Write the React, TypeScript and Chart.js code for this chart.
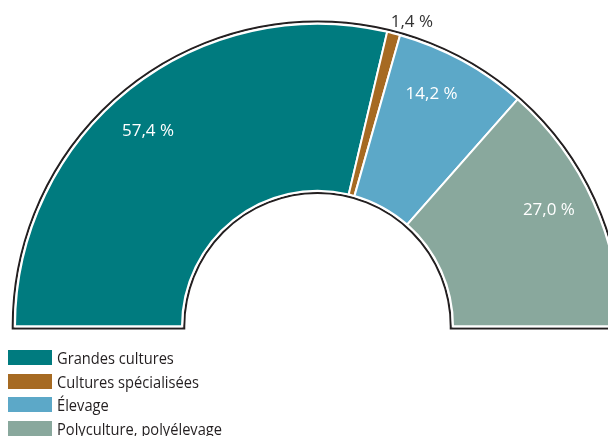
import React, { useEffect, useRef } from "react";
import { Chart, registerables } from "chart.js";

Chart.register(...registerables);

const categories = ["Grandes cultures", "Cultures spécialisées", "Élevage", "Polyculture, polyélevage"];
const shares = [57.4, 1.4, 14.2, 27.0];
const valueLabels = ["57,4 %", "1,4 %", "14,2 %", "27,0 %"];
const colors = ["#007B7F", "#A66A22", "#5CA8C8", "#89A89D"];

const CANVAS_W = 660;
const CANVAS_H = 436;
const LEGEND_FONT = "17px 'Open Sans', 'Noto Sans', sans-serif";

const outlinePlugin = {
  id: "outline",
  beforeDatasetsDraw(chart: any) {
    const meta = chart.getDatasetMeta(0);
    const arc = meta.data[0];
    if (!arc) return;
    const { x, y, outerRadius, innerRadius } = arc.getProps(["x", "y", "outerRadius", "innerRadius"], true);
    const d = 2.3;
    const R = outerRadius + d;
    const r = innerRadius - d;
    const ctx = chart.ctx;
    ctx.save();
    ctx.beginPath();
    ctx.moveTo(x - R, y + d);
    ctx.lineTo(x - R, y);
    ctx.arc(x, y, R, Math.PI, 2 * Math.PI, false);
    ctx.lineTo(x + R, y + d);
    ctx.lineTo(x + r, y + d);
    ctx.lineTo(x + r, y);
    ctx.arc(x, y, r, 0, Math.PI, true);
    ctx.lineTo(x - r, y + d);
    ctx.closePath();
    ctx.strokeStyle = "#231f20";
    ctx.lineWidth = 2;
    ctx.lineJoin = "miter";
    ctx.stroke();
    ctx.restore();
  },
};

const labelPlugin = {
  id: "sliceLabels",
  afterDatasetsDraw(chart: any) {
    const meta = chart.getDatasetMeta(0);
    const ctx = chart.ctx;
    ctx.save();
    ctx.font = "17px 'Open Sans', 'Noto Sans', sans-serif";
    ctx.textAlign = "center";
    ctx.textBaseline = "alphabetic";
    meta.data.forEach((el: any, i: number) => {
      const { x, y, startAngle, endAngle, outerRadius } = el.getProps(
        ["x", "y", "startAngle", "endAngle", "outerRadius"],
        true
      );
      const mid = (startAngle + endAngle) / 2;
      const small = shares[i] < 5;
      const ang = mid + ((small ? 2.6 : -2.5) * Math.PI) / 180;
      const rad = small ? outerRadius + 17 : outerRadius * 0.857;
      const px = x + Math.cos(ang) * rad;
      const py = y + Math.sin(ang) * rad;
      ctx.fillStyle = small ? "#333333" : "#ffffff";
      ctx.fillText(valueLabels[i], px, py + 6);
    });
    ctx.restore();
  },
};

function legendScale(): number {
  const c = document.createElement("canvas");
  const ctx = c.getContext("2d");
  if (!ctx) return 0.88;
  ctx.font = LEGEND_FONT;
  const w = ctx.measureText("Polyculture, polyélevage").width;
  return w > 0 ? 165 / w : 0.88;
}

export default function App() {
  const ref = useRef<HTMLCanvasElement | null>(null);
  const scale = legendScale();

  useEffect(() => {
    if (!ref.current) return;
    const chart = new Chart(ref.current, {
      type: "doughnut",
      data: {
        labels: categories,
        datasets: [
          {
            data: shares,
            backgroundColor: colors,
            borderColor: "#ffffff",
            borderWidth: 2,
            hoverOffset: 0,
          },
        ],
      },
      options: {
        responsive: false,
        maintainAspectRatio: false,
        animation: false,
        devicePixelRatio: 1,
        rotation: -90,
        circumference: 180,
        cutout: "44.8%",
        radius: 302.5,
        layout: { padding: { left: 15, right: 40, top: 23, bottom: 109 } },
        plugins: {
          legend: { display: false },
          tooltip: { enabled: false },
        },
      } as any,
      plugins: [outlinePlugin, labelPlugin],
    });
    return () => chart.destroy();
  }, []);

  return (
    <div
      style={{
        position: "fixed",
        left: 0,
        top: 0,
        width: 608,
        height: 436,
        overflow: "hidden",
        background: "#ffffff",
      }}
    >
      <canvas
        ref={ref}
        width={CANVAS_W}
        height={CANVAS_H}
        style={{ position: "absolute", left: 0, top: 0, width: CANVAS_W, height: CANVAS_H }}
      />
      {categories.map((c, i) => (
        <div key={c}>
          <div
            style={{
              position: "absolute",
              left: 8,
              top: 350 + i * 23.5,
              width: 43.5,
              height: 15,
              background: colors[i],
            }}
          />
          <div
            style={{
              position: "absolute",
              left: 57,
              top: 350 + i * 23.5 - 4,
              height: 23,
              lineHeight: "23px",
              font: LEGEND_FONT,
              color: "#231f20",
              whiteSpace: "nowrap",
              transform: `scaleX(${scale})`,
              transformOrigin: "0 50%",
            }}
          >
            {c}
          </div>
        </div>
      ))}
    </div>
  );
}
